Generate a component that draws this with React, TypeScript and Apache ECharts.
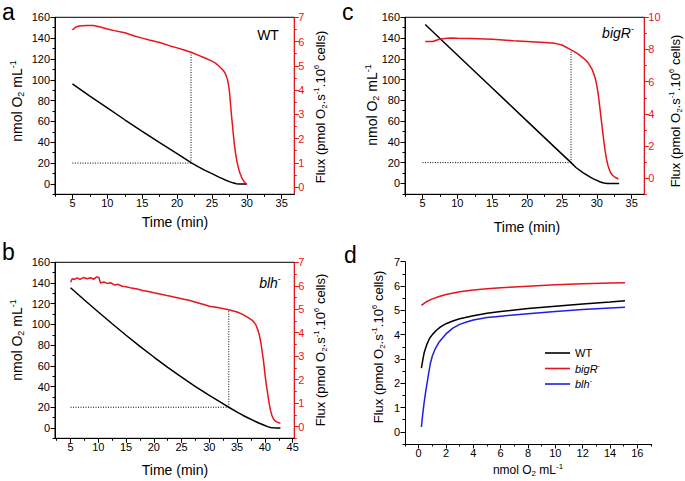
import React, { useEffect, useRef } from 'react';
import * as echarts from 'echarts';

const FF = '"Liberation Sans", Arial, Helvetica, sans-serif';
const BLACK = '#000000';
const RED = '#e8141c';
const BLUE = '#1f1fe6';

// ---------- Panel a (WT) ----------
const aO2 = [[5, 96], [7.5, 84.3], [10, 73], [12.5, 61.6], [15, 50.5], [17.5, 39.6], [20, 29], [22, 20.5], [23, 16.6], [24, 13], [25, 9.8], [26, 6.5], [26.5, 5], [27, 3.5], [27.5, 2.2], [28, 1], [28.5, 0.2], [29, 0], [30, 0]];
const aFlux = [[5, 6.48], [5.5, 6.6], [6, 6.64], [7, 6.66], [8, 6.66], [9, 6.6], [10, 6.52], [11, 6.45], [12.5, 6.36], [14, 6.22], [15, 6.14], [16, 6.06], [17.5, 5.96], [19, 5.82], [20, 5.74], [21, 5.65], [22, 5.56], [23, 5.44], [24, 5.32], [25, 5.19], [25.5, 5.11], [26, 4.99], [26.5, 4.85], [26.8, 4.74], [27, 4.62], [27.2, 4.45], [27.35, 4.25], [27.5, 3.95], [27.65, 3.45], [27.8, 2.95], [28, 2.35], [28.2, 1.78], [28.4, 1.35], [28.6, 1.03], [28.8, 0.78], [29, 0.58], [29.3, 0.37], [29.6, 0.22], [30, 0.1]];
const aGuideH = [[5, 20], [22, 20]];
const aGuideV = [[22, 20], [22, 126.5]];

// ---------- Panel b (blh-) ----------
const bO2 = [[5, 135.4], [7.5, 123.6], [10, 112], [12.5, 100.6], [15, 89.5], [17.5, 78.8], [20, 68.5], [22.5, 58.6], [25, 49], [27.5, 40], [30, 31.5], [32, 25], [33.5, 20], [35, 15.3], [36, 12.3], [37, 9.6], [38, 7], [39, 4.5], [40, 2.3], [40.5, 1.3], [41, 0.5], [41.5, 0.1], [42, 0], [42.8, 0]];
const bFlux = [[5, 6.15], [5.3, 6.3], [5.7, 6.27], [6.2, 6.34], [6.7, 6.27], [7.3, 6.35], [8, 6.3], [8.6, 6.34], [9.2, 6.28], [9.7, 6.38], [10.1, 6.35], [10.4, 6.12], [11, 6.16], [11.6, 6.1], [12.2, 6.13], [13, 6.03], [13.6, 6.06], [14.3, 5.98], [15, 5.96], [16, 5.9], [17, 5.86], [18, 5.8], [19, 5.76], [20, 5.7], [21.5, 5.63], [22.6, 5.57], [24, 5.5], [25, 5.45], [26.5, 5.37], [27.7, 5.29], [29, 5.2], [30, 5.13], [31.5, 5.07], [33.5, 4.98], [35, 4.88], [36, 4.78], [37, 4.64], [37.6, 4.55], [38, 4.46], [38.4, 4.32], [38.7, 4.15], [39, 3.9], [39.3, 3.55], [39.6, 3.05], [39.8, 2.7], [40, 2.26], [40.25, 1.8], [40.5, 1.41], [40.75, 1.02], [41, 0.7], [41.3, 0.45], [41.6, 0.3], [42, 0.21], [42.8, 0.14]];
const bGuideH = [[5, 20], [33.5, 20]];
const bGuideV = [[33.5, 20], [33.5, 114.2]];

// ---------- Panel c (bigR-) ----------
const cO2 = [[5.4, 153], [10, 123.7], [15, 91.9], [20, 60], [25, 28.2], [26.3, 20], [27, 15.3], [28, 10.4], [29, 6.2], [29.5, 4.4], [30, 2.9], [30.5, 1.3], [31, 0.3], [31.5, 0], [33.2, 0]];
const cFlux = [[5.4, 8.5], [6.5, 8.5], [7.5, 8.65], [9, 8.72], [10, 8.7], [12, 8.68], [15, 8.63], [18, 8.55], [20, 8.5], [22.5, 8.44], [24, 8.38], [25, 8.28], [26.3, 7.97], [27.2, 7.76], [28.2, 7.42], [28.7, 7.2], [29, 7.0], [29.3, 6.78], [29.6, 6.45], [29.8, 6.15], [30, 5.75], [30.2, 5.2], [30.4, 4.5], [30.6, 3.75], [30.8, 3.0], [31, 2.3], [31.2, 1.65], [31.4, 1.15], [31.6, 0.78], [31.9, 0.4], [32.2, 0.2], [32.6, 0.06], [33.1, -0.05]];
const cGuideH = [[5, 20], [26.3, 20]];
const cGuideV = [[26.3, 20], [26.3, 128]];

// ---------- Panel d ----------
const dWT = [[0.2, 2.62], [0.3, 2.95], [0.4, 3.25], [0.6, 3.6], [0.8, 3.85], [1, 4.0], [1.3, 4.18], [1.6, 4.32], [2, 4.45], [2.5, 4.56], [3, 4.65], [4, 4.78], [5, 4.88], [6, 4.95], [8, 5.07], [10, 5.17], [12, 5.26], [14, 5.34], [15.1, 5.39]];
const dBigR = [[0.2, 5.2], [0.5, 5.33], [1, 5.47], [1.5, 5.57], [2, 5.65], [3, 5.76], [4, 5.84], [5, 5.89], [6, 5.93], [7, 5.96], [8, 5.99], [10, 6.05], [12, 6.09], [14, 6.12], [15.1, 6.13]];
const dBlh = [[0.2, 0.2], [0.3, 0.75], [0.4, 1.2], [0.5, 1.6], [0.7, 2.3], [0.85, 2.8], [1, 3.12], [1.2, 3.4], [1.5, 3.7], [2, 4.03], [2.5, 4.27], [3, 4.42], [3.5, 4.52], [4, 4.6], [5, 4.7], [6, 4.76], [8, 4.86], [10, 4.95], [12, 5.03], [14, 5.1], [15.1, 5.13]];

// ---------- Tick values ----------
const timeTicks35 = [5, 10, 15, 20, 25, 30, 35];
const timeMinor35 = [2.5, 7.5, 12.5, 17.5, 22.5, 27.5, 32.5];
const timeTicks45 = [5, 10, 15, 20, 25, 30, 35, 40, 45];
const timeMinor45 = [2.5, 7.5, 12.5, 17.5, 22.5, 27.5, 32.5, 37.5, 42.5];
const o2Ticks = [0, 20, 40, 60, 80, 100, 120, 140, 160];
const o2Minor = [-10, 10, 30, 50, 70, 90, 110, 130, 150];
const flux7Ticks = [0, 1, 2, 3, 4, 5, 6, 7];
const flux7Minor = [-0.5, 0.5, 1.5, 2.5, 3.5, 4.5, 5.5, 6.5];
const flux10Ticks = [0, 2, 4, 6, 8, 10];
const flux10Minor = [-1, 1, 3, 5, 7, 9];
const concTicks = [0, 2, 4, 6, 8, 10, 12, 14, 16];
const concMinor = [-1, 1, 3, 5, 7, 9, 11, 13, 15, 17];

function axis(kind: string, gridIndex: number, position: string, min: number, max: number, values: number[], minor: boolean, color: string = BLACK) {
  return {
    type: 'value', gridIndex, position, min, max,
    axisLine: { show: !minor, onZero: false, lineStyle: { color, width: 1 } },
    axisTick: { show: true, inside: false, length: minor ? 2.5 : 4.5, customValues: values, lineStyle: { color, width: 1 } },
    axisLabel: minor ? { show: false } : {
      show: true, customValues: values, color, fontSize: 11, fontFamily: FF,
      margin: kind === 'x' ? 3 : (position === 'right' ? 4 : 5),
    },
    splitLine: { show: false },
    minorTick: { show: false },
  };
}

function line(name: string, data: number[][], xi: number, yi: number, color: string, width = 1.5, dotted = false) {
  return {
    type: 'line', name, data, xAxisIndex: xi, yAxisIndex: yi,
    symbol: 'none', showSymbol: false, silent: true, smooth: false,
    lineStyle: { color, width, type: dotted ? [1, 1.5] : 'solid' },
    itemStyle: { color },
    z: dotted ? 1 : 2,
  };
}

function rich(fs: number) {
  const s = Math.round(fs * 0.65);
  const lh = fs + 3;
  return {
    n: { fontSize: fs, fontFamily: FF, fill: BLACK, lineHeight: lh, verticalAlign: 'middle' },
    i: { fontSize: fs, fontFamily: FF, fill: BLACK, lineHeight: lh, verticalAlign: 'middle', fontStyle: 'italic' },
    sub: { fontSize: s, fontFamily: FF, fill: BLACK, lineHeight: lh, verticalAlign: 'bottom' },
    sup: { fontSize: s, fontFamily: FF, fill: BLACK, lineHeight: lh, verticalAlign: 'top' },
  };
}

function title(text: string, x: number, y: number, fs: number, vertical: boolean) {
  return {
    type: 'text', x, y, rotation: vertical ? Math.PI / 2 : 0, silent: true,
    style: { text, rich: rich(fs), align: 'center', verticalAlign: 'middle', fill: BLACK, fontSize: fs, fontFamily: FF },
  };
}

function letter(text: string, x: number, y: number) {
  return { type: 'text', x, y, silent: true, style: { text, fontSize: 23, fontFamily: FF, fill: BLACK, verticalAlign: 'top' } };
}

const O2_TITLE = '{n|nmol O}{sub|2}{n| mL}{sup|-1}';
const FLUX_TITLE = '{n|Flux (pmol O}{sub|2}{n|.s}{sup|-1}{n|.10}{sup|6}{n| cells)}';
const TIME_TITLE = '{n|Time (min)}';

export default function App() {
  const ref = useRef<HTMLDivElement>(null);
  useEffect(() => {
    if (!ref.current) return;
    const chart = echarts.init(ref.current, null, { renderer: 'svg' });
    const grid = (left: number, top: number, width: number, height: number, border: boolean) => ({
      left, top, width, height, show: border, borderColor: BLACK, borderWidth: 1,
      backgroundColor: 'transparent', containLabel: false, outerBoundsMode: 'none',
    });
    const option: any = {
      animation: false,
      backgroundColor: '#ffffff',
      grid: [
        grid(55, 17.3, 239.3, 177, true),
        grid(55, 262.3, 239.3, 176, true),
        grid(405, 17.3, 239.3, 177, true),
        grid(405, 261.7, 246, 182.3, false),
      ],
      xAxis: [
        axis('x', 0, 'bottom', 2.5, 36.8, timeTicks35, false),
        axis('x', 0, 'bottom', 2.5, 36.8, timeMinor35, true),
        axis('x', 1, 'bottom', 2.2, 45.3, timeTicks45, false),
        axis('x', 1, 'bottom', 2.2, 45.3, timeMinor45, true),
        axis('x', 2, 'bottom', 2.5, 36.8, timeTicks35, false),
        axis('x', 2, 'bottom', 2.5, 36.8, timeMinor35, true),
        axis('x', 3, 'bottom', -1, 17, concTicks, false),
        axis('x', 3, 'bottom', -1, 17, concMinor, true),
      ],
      yAxis: [
        axis('y', 0, 'left', -10, 160, o2Ticks, false),
        axis('y', 0, 'left', -10, 160, o2Minor, true),
        axis('y', 0, 'right', -0.3, 7, flux7Ticks, false, RED),
        axis('y', 0, 'right', -0.3, 7, flux7Minor, true, RED),
        axis('y', 1, 'left', -10, 160, o2Ticks, false),
        axis('y', 1, 'left', -10, 160, o2Minor, true),
        axis('y', 1, 'right', -0.5, 7, flux7Ticks, false, RED),
        axis('y', 1, 'right', -0.5, 7, flux7Minor, true, RED),
        axis('y', 2, 'left', -10.5, 160, o2Ticks, false),
        axis('y', 2, 'left', -10.5, 160, o2Minor, true),
        axis('y', 2, 'right', -1, 10, flux10Ticks, false, RED),
        axis('y', 2, 'right', -1, 10, flux10Minor, true, RED),
        axis('y', 3, 'left', -0.5, 7, flux7Ticks, false),
        axis('y', 3, 'left', -0.5, 7, flux7Minor, true),
      ],
      legend: {
        data: ['WT', 'bigR', 'blh'],
        orient: 'vertical', left: 545, top: 346, padding: 0,
        icon: 'rect', itemWidth: 25, itemHeight: 1.6, itemGap: 1.5,
        formatter: (name: string) => (name === 'WT' ? '{n|WT}' : `{i|${name}}{s|-}`),
        textStyle: {
          fontSize: 11, fontFamily: FF, color: BLACK, lineHeight: 14,
          rich: {
            n: { fontSize: 11, fontFamily: FF, color: BLACK, lineHeight: 14 },
            i: { fontSize: 11, fontFamily: FF, color: BLACK, fontStyle: 'italic', lineHeight: 14 },
            s: { fontSize: 7, fontFamily: FF, color: BLACK, verticalAlign: 'top', lineHeight: 14 },
          },
        },
      },
      series: [
        line('aGuideH', aGuideH, 0, 0, BLACK, 1, true),
        line('aGuideV', aGuideV, 0, 0, BLACK, 1, true),
        line('aO2', aO2, 0, 0, BLACK),
        line('aFlux', aFlux, 0, 2, RED),
        line('bGuideH', bGuideH, 2, 4, BLACK, 1, true),
        line('bGuideV', bGuideV, 2, 4, BLACK, 1, true),
        line('bO2', bO2, 2, 4, BLACK),
        line('bFlux', bFlux, 2, 6, RED),
        line('cGuideH', cGuideH, 4, 8, BLACK, 1, true),
        line('cGuideV', cGuideV, 4, 8, BLACK, 1, true),
        line('cO2', cO2, 4, 8, BLACK),
        line('cFlux', cFlux, 4, 10, RED),
        line('WT', dWT, 6, 12, BLACK),
        line('bigR', dBigR, 6, 12, RED),
        line('blh', dBlh, 6, 12, BLUE),
      ],
      graphic: [
        letter('a', 2, 0),
        letter('b', 2, 240),
        letter('c', 342, 0),
        letter('d', 344, 243),
        title('{n|WT}', 268, 35, 14, false),
        title('{i|bigR}{sup|-}', 618, 33, 14, false),
        title('{i|blh}{sup|-}', 270, 283, 14, false),
        title(O2_TITLE, 17, 101, 14, true),
        title(FLUX_TITLE, 320, 107, 13, true),
        title(TIME_TITLE, 175, 222, 14, false),
        title(O2_TITLE, 17, 340, 14, true),
        title(FLUX_TITLE, 320, 350, 13, true),
        title(TIME_TITLE, 175, 470, 14, false),
        title(O2_TITLE, 372, 105, 14, true),
        title(FLUX_TITLE, 675, 111, 13, true),
        title(TIME_TITLE, 527, 227, 14, false),
        title(FLUX_TITLE, 378, 347, 13, true),
        title(O2_TITLE, 528, 470, 12, false),
      ],
    };
    chart.setOption(option);
    return () => chart.dispose();
  }, []);
  return <div ref={ref} style={{ position: 'fixed', left: 0, top: 0, width: 685, height: 481 }} />;
}
